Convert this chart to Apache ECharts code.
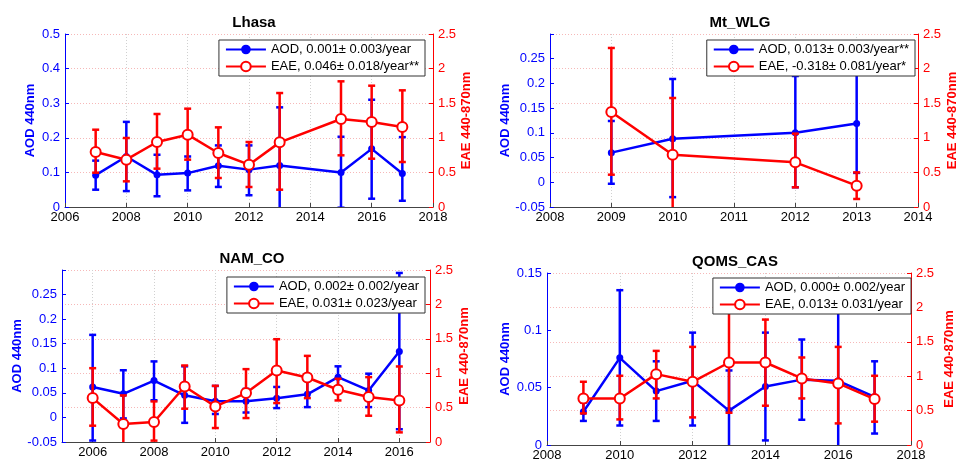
<!DOCTYPE html>
<html>
<head>
<meta charset="utf-8">
<script src="https://cdn.jsdelivr.net/npm/echarts@6/dist/echarts.min.js"></script>
<style>
  html, body { margin: 0; padding: 0; background: #fff; }
  #main { width: 961px; height: 468px; }
</style>
</head>
<body>
<div id="main"></div>
<script>
// ---- data ----
// Lhasa
var lhasaYears = [2007, 2008, 2009, 2010, 2011, 2012, 2013, 2015, 2016, 2017];
var lhasaAod   = [0.092, 0.146, 0.093, 0.098, 0.119, 0.108, 0.120, 0.100, 0.168, 0.097];
var lhasaAodLo = [0.050, 0.046, 0.031, 0.048, 0.058, 0.034, -0.050, -0.002, 0.024, 0.018];
var lhasaAodHi = [0.134, 0.246, 0.151, 0.146, 0.178, 0.178, 0.288, 0.203, 0.310, 0.202];
var lhasaEae   = [0.795, 0.684, 0.939, 1.045, 0.780, 0.612, 0.934, 1.272, 1.228, 1.156];
var lhasaEaeLo = [0.496, 0.371, 0.554, 0.684, 0.419, 0.289, 0.250, 0.747, 0.698, 0.650];
var lhasaEaeHi = [1.117, 0.997, 1.344, 1.421, 1.151, 0.939, 1.647, 1.816, 1.753, 1.686];

// Mt_WLG
var wlgYears = [2009, 2010, 2012, 2013];
var wlgAod   = [0.060, 0.088, 0.100, 0.119];
var wlgAodLo = [-0.003, -0.030, -0.010, 0.019];
var wlgAodHi = [0.124, 0.209, 0.215, 0.220];
var wlgEae   = [1.373, 0.756, 0.645, 0.308];
var wlgEaeLo = [0.467, -0.060, 0.284, 0.116];
var wlgEaeHi = [2.298, 1.575, 1.060, 0.500];

// NAM_CO
var namYears = [2006, 2007, 2008, 2009, 2010, 2011, 2012, 2013, 2014, 2015, 2016];
var namAod   = [0.062, 0.048, 0.075, 0.045, 0.033, 0.033, 0.039, 0.047, 0.082, 0.055, 0.134];
var namAodLo = [-0.047, -0.002, 0.035, -0.011, 0.007, 0.010, 0.019, 0.021, 0.063, 0.021, -0.024];
var namAodHi = [0.168, 0.096, 0.114, 0.104, 0.064, 0.058, 0.062, 0.078, 0.104, 0.089, 0.294];
var namEae   = [0.638, 0.261, 0.290, 0.807, 0.517, 0.711, 1.040, 0.938, 0.759, 0.653, 0.604];
var namEaeLo = [0.237, -0.050, 0.020, 0.484, 0.203, 0.348, 0.566, 0.638, 0.604, 0.382, 0.140];
var namEaeHi = [1.073, 0.677, 0.590, 1.112, 0.817, 1.059, 1.494, 1.252, 0.919, 0.943, 1.098];

// QOMS_CAS
var qomsYears = [2009, 2010, 2011, 2012, 2013, 2014, 2015, 2016, 2017];
var qomsAod   = [0.029, 0.076, 0.047, 0.056, 0.030, 0.051, 0.057, 0.056, 0.042];
var qomsAodLo = [0.021, 0.017, 0.021, 0.017, -0.005, 0.004, 0.022, -0.005, 0.010];
var qomsAodHi = [0.037, 0.135, 0.073, 0.098, 0.065, 0.098, 0.092, 0.117, 0.073];
var qomsEae   = [0.677, 0.677, 1.030, 0.919, 1.199, 1.199, 0.967, 0.895, 0.667];
var qomsEaeLo = [0.459, 0.372, 0.677, 0.401, 0.469, 0.571, 0.677, 0.314, 0.339];
var qomsEaeHi = [0.919, 1.006, 1.368, 1.426, 1.930, 1.823, 1.272, 1.426, 1.006];

var titles = ['Lhasa', 'Mt_WLG', 'NAM_CO', 'QOMS_CAS'];
var aodNames = ['AOD, 0.001\u00b1 0.003/year', 'AOD, 0.013\u00b1 0.003/year**',
                'AOD, 0.002\u00b1 0.002/year', 'AOD, 0.000\u00b1 0.002/year'];
var eaeNames = ['EAE, 0.046\u00b1 0.018/year**', 'EAE, -0.318\u00b1 0.081/year*',
                'EAE, 0.031\u00b1 0.023/year', 'EAE, 0.013\u00b1 0.031/year'];
var xTicks = [
  [2006, 2008, 2010, 2012, 2014, 2016, 2018],
  [2008, 2009, 2010, 2011, 2012, 2013, 2014],
  [2006, 2008, 2010, 2012, 2014, 2016],
  [2008, 2010, 2012, 2014, 2016, 2018]
];

var panels = [
  { years: lhasaYears, aod: lhasaAod, aodLo: lhasaAodLo, aodHi: lhasaAodHi, eae: lhasaEae, eaeLo: lhasaEaeLo, eaeHi: lhasaEaeHi },
  { years: wlgYears, aod: wlgAod, aodLo: wlgAodLo, aodHi: wlgAodHi, eae: wlgEae, eaeLo: wlgEaeLo, eaeHi: wlgEaeHi },
  { years: namYears, aod: namAod, aodLo: namAodLo, aodHi: namAodHi, eae: namEae, eaeLo: namEaeLo, eaeHi: namEaeHi },
  { years: qomsYears, aod: qomsAod, aodLo: qomsAodLo, aodHi: qomsAodHi, eae: qomsEae, eaeLo: qomsEaeLo, eaeHi: qomsEaeHi }
];

// ---- layout ----
var grids = [
  { left: 65, top: 34, width: 368, height: 173 },
  { left: 550, top: 34, width: 368, height: 173 },
  { left: 62, top: 270, width: 368, height: 172 },
  { left: 547, top: 273, width: 364, height: 172 }
];
var xRange = [[2006, 2018], [2008, 2014], [2005, 2017], [2008, 2018]];
var aodRange = [[0, 0.5, 0.1], [-0.05, 0.3, 0.05], [-0.05, 0.3, 0.05], [0, 0.15, 0.05]];
var titlePos = [[249, 10], [735, 10], [247, 246], [730, 249]];
var leftGap = [28, 35, 38, 35];
var rightGap = [27, 28, 28, 32];
var legendPos = [[536, 40], [46, 40], [536, 277], [50, 278]];

var FONT = '"Liberation Sans", Arial, sans-serif';
var BLUE = '#0000ff';
var RED = '#ff0000';

function errBar(color) {
  return function (params, api) {
    var x = api.value(0);
    var p1 = api.coord([x, api.value(1)]);
    var p2 = api.coord([x, api.value(2)]);
    var w = 3.5;
    var st = { stroke: color, lineWidth: 2.5 };
    return {
      type: 'group',
      children: [
        { type: 'line', shape: { x1: p1[0], y1: p1[1], x2: p2[0], y2: p2[1] }, style: st },
        { type: 'line', shape: { x1: p1[0] - w, y1: p1[1], x2: p1[0] + w, y2: p1[1] }, style: st },
        { type: 'line', shape: { x1: p2[0] - w, y1: p2[1], x2: p2[0] + w, y2: p2[1] }, style: st }
      ]
    };
  };
}

var option = {
  animation: false,
  backgroundColor: '#fff',
  title: [], grid: [], xAxis: [], yAxis: [], legend: [], series: []
};

panels.forEach(function (p, i) {
  option.grid.push(grids[i]);
  option.title.push({
    text: titles[i], left: titlePos[i][0], top: titlePos[i][1], textAlign: 'center',
    textStyle: { fontFamily: FONT, fontSize: 15, fontWeight: 'bold', color: '#000' }
  });
  option.xAxis.push({
    type: 'value', gridIndex: i, min: xRange[i][0], max: xRange[i][1],
    axisLine: { onZero: false, lineStyle: { color: '#444', width: 1 } },
    axisTick: { inside: true, length: 4, lineStyle: { color: '#444' }, customValues: xTicks[i] },
    axisLabel: { customValues: xTicks[i], color: '#000', fontFamily: FONT, fontSize: 13, margin: 4,
                 formatter: function (v) { return String(v); } },
    splitLine: { show: true, lineStyle: { color: '#d0d0d0', type: [1, 2] } }
  });
  var ar = aodRange[i];
  option.yAxis.push({
    type: 'value', gridIndex: i, position: 'left', min: ar[0], max: ar[1], interval: ar[2],
    name: 'AOD 440nm', nameLocation: 'middle', nameGap: leftGap[i], nameRotate: 90,
    nameTextStyle: { color: BLUE, fontFamily: FONT, fontSize: 13, fontWeight: 'bold' },
    axisLine: { show: true, onZero: false, lineStyle: { color: BLUE } },
    axisTick: { show: true, inside: true, length: 4, lineStyle: { color: BLUE } },
    axisLabel: { color: BLUE, fontFamily: FONT, fontSize: 13, margin: 5,
      formatter: function (v) { return v > 0.29 && ar[1] === 0.3 ? '' : String(+v.toFixed(3)); } },
    splitLine: { show: false }
  });
  option.yAxis.push({
    type: 'value', gridIndex: i, position: 'right', min: 0, max: 2.5, interval: 0.5,
    name: 'EAE 440-870nm', nameLocation: 'middle', nameGap: rightGap[i], nameRotate: 90,
    nameTextStyle: { color: RED, fontFamily: FONT, fontSize: 13, fontWeight: 'bold' },
    axisLine: { show: true, onZero: false, lineStyle: { color: RED } },
    axisTick: { show: true, inside: true, length: 4, lineStyle: { color: RED } },
    axisLabel: { color: RED, fontFamily: FONT, fontSize: 13, margin: 5 },
    splitLine: { show: true, lineStyle: { color: '#f6b8b8', type: [1, 2] } }
  });
  option.legend.push({
    data: [aodNames[i], eaeNames[i]], orient: 'vertical',
    right: legendPos[i][0], top: legendPos[i][1],
    backgroundColor: '#fff', borderColor: '#333', borderWidth: 1, borderRadius: 0,
    padding: [3, 6, 3, 6], itemGap: 4, itemWidth: 40, itemHeight: 12, z: 20,
    textStyle: { fontFamily: FONT, fontSize: 13, color: '#000' }
  });

  var aodPts = p.years.map(function (y, k) { return [y, p.aod[k]]; });
  var aodErr = p.years.map(function (y, k) { return [y, p.aodLo[k], p.aodHi[k]]; });
  var eaePts = p.years.map(function (y, k) { return [y, p.eae[k]]; });
  var eaeErr = p.years.map(function (y, k) { return [y, p.eaeLo[k], p.eaeHi[k]]; });

  option.series.push({
    type: 'custom', xAxisIndex: i, yAxisIndex: 2 * i, clip: true, z: 2,
    renderItem: errBar(BLUE), encode: { x: 0, y: [1, 2] }, data: aodErr, silent: true
  });
  option.series.push({
    name: aodNames[i], type: 'line', xAxisIndex: i, yAxisIndex: 2 * i, z: 3,
    data: aodPts, symbol: 'circle', symbolSize: 7, color: BLUE,
    lineStyle: { color: BLUE, width: 2.5 }, itemStyle: { color: BLUE }
  });
  option.series.push({
    type: 'custom', xAxisIndex: i, yAxisIndex: 2 * i + 1, clip: true, z: 4,
    renderItem: errBar(RED), encode: { x: 0, y: [1, 2] }, data: eaeErr, silent: true
  });
  option.series.push({
    name: eaeNames[i], type: 'line', xAxisIndex: i, yAxisIndex: 2 * i + 1, z: 5,
    data: eaePts, symbol: 'emptyCircle', symbolSize: 10, color: RED,
    lineStyle: { color: RED, width: 2.5 }, itemStyle: { color: RED, borderWidth: 2 }
  });
});

var chart = echarts.init(document.getElementById('main'));
chart.setOption(option);
</script>
</body>
</html>
